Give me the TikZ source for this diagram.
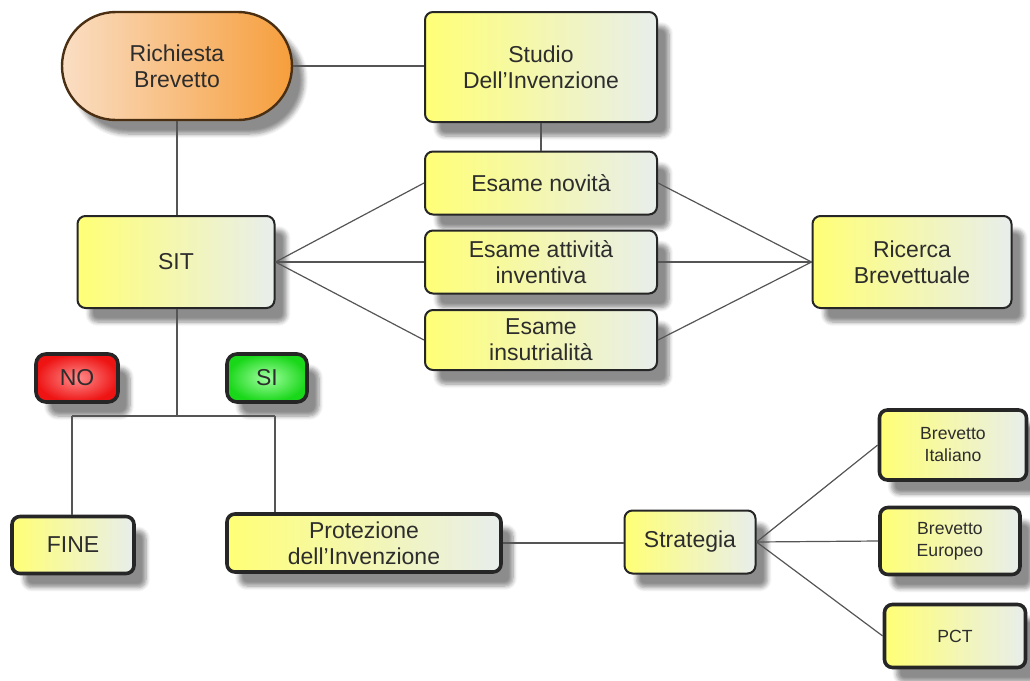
\documentclass[tikz,border=0pt]{standalone}
\usepackage{fontspec}
\setmainfont{Liberation Sans}
\usetikzlibrary{shapes.misc,shadows.blur}
\definecolor{ylw}{RGB}{255,255,118}
\definecolor{pale}{RGB}{232,238,236}
\definecolor{org}{RGB}{246,158,60}
\definecolor{orgl}{RGB}{250,222,196}
\definecolor{txt}{RGB}{45,45,45}
\definecolor{wire}{RGB}{85,85,85}
\begin{document}
\begin{tikzpicture}[x=0.5pt,y=-0.5pt,
  every node/.style={text=txt,align=center,font=\fontsize{11.5}{13}\selectfont},
  sh/.style={blur shadow={shadow xshift=6pt,shadow yshift=-7pt,shadow blur steps=6,shadow opacity=45}},
  box/.style={sh,draw=black!85,line width=1pt,rounded corners=4pt,inner sep=0pt,
    left color=ylw,right color=pale},
  bbox/.style={box,line width=1.8pt},
  pill/.style={sh,draw=black!85,line width=1.8pt,rounded corners=5pt,inner sep=0pt},
  small/.style={font=\fontsize{8.8}{11}\selectfont},
  wire/.style={draw=wire,line width=0.6pt}]
\useasboundingbox (0,0) rectangle (1030,681);

% nodes
\node[sh,rounded rectangle,draw=black!70!org,line width=1.2pt,left color=orgl,right color=org,
  minimum width=115pt,minimum height=54pt,inner sep=0pt] (req) at (177,66) {Richiesta\\Brevetto};
\node[box,minimum width=116pt,minimum height=55pt] (studio) at (541,67) {Studio\\Dell'Invenzione};
\node[box,minimum width=116pt,minimum height=31.5pt] (nov) at (541,183) {Esame novità};
\node[box,minimum width=116pt,minimum height=31.5pt] (att) at (541,262) {Esame attività\\inventiva};
\node[box,minimum width=116pt,minimum height=30pt] (ind) at (541,340) {Esame\\insutrialità};
\node[box,minimum width=99.5pt,minimum height=46pt] (ric) at (912,262) {Ricerca\\Brevettuale};
\node[box,minimum width=98.5pt,minimum height=46pt] (sit) at (176,262) {SIT};
\node[pill,shading=radial,inner color={rgb,255:red,255;green,140;blue,140},outer color={rgb,255:red,238;green,20;blue,20},
  minimum width=41pt,minimum height=24pt] (no) at (77,378) {NO};
\node[pill,shading=radial,inner color={rgb,255:red,160;green,255;blue,160},outer color={rgb,255:red,25;green,215;blue,25},
  minimum width=40pt,minimum height=24pt] (si) at (267,378) {SI};
\node[bbox,minimum width=61pt,minimum height=28.5pt] (fine) at (73,545) {FINE};
\node[bbox,minimum width=137pt,minimum height=29pt] (prot) at (364,543) {Protezione\\dell'Invenzione};
\node[box,minimum width=65.5pt,minimum height=31.5pt] (strat) at (690,542) {Strategia};
\node[bbox,small,minimum width=73.5pt,minimum height=35pt] (bit) at (953,445) {Brevetto\\Italiano};
\node[bbox,small,minimum width=70pt,minimum height=33.5pt] (beu) at (950,541) {Brevetto\\Europeo};
\node[bbox,small,minimum width=70.5pt,minimum height=31.5pt] (pct) at (955,636) {PCT};

\coordinate (jn) at (177,416);
\coordinate (jl) at (72,416);
\coordinate (jr) at (275,416);

% connectors
\draw[wire] (req.east) -- (studio.west |- req.east);
\draw[wire] (req.south) -- (sit.north -| req.south);
\draw[wire] (studio) -- (nov);
\foreach \e in {nov,att,ind} {
  \draw[wire] (sit.east) -- (\e.west);
  \draw[wire] (\e.east) -- (ric.west);
}
\draw[wire] (sit.south -| jn) -- (jn);
\draw[wire] (jl) -- (jr);
\draw[wire] (jl) -- (jl |- fine.north);
\draw[wire] (jr) -- (jr |- prot.north);
\draw[wire] (prot.east) -- (strat.west |- prot.east);
\foreach \b in {bit,beu,pct}
  \draw[wire] (strat.east) -- (\b.west);
\end{tikzpicture}
\end{document}
